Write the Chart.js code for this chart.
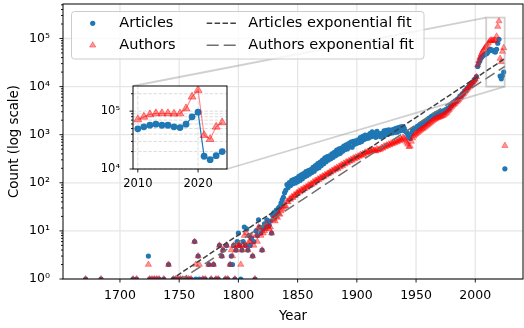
<!DOCTYPE html>
<html><head><meta charset="utf-8">
<script src="https://cdn.jsdelivr.net/npm/chart.js@4"></script>
<style>
html,body{margin:0;padding:0;background:#fff;}
#wrap{position:relative;width:524px;height:328px;overflow:hidden;background:#fff;}
#main{position:absolute;left:0;top:0;}
#inset{position:absolute;}
</style></head><body>
<div id="wrap"><canvas id="main" width="524" height="328"></canvas><canvas id="inset"></canvas></div>
<script>
// ---------------- DATA ----------------
const earlyYears    = [1671,1684,1711,1714,1724,1725,1727,1729,1731,1733,1737,1741,1745,1747,1749,1751,1753,1756,1758,1760,1763,1764,1766,1767,1770,1772,1775,1777,1779,1781,1783,1784,1786,1787,1789,1790,1791,1793,1794,1795,1796,1797,1798,1799];
const earlyArticles = [1,1,1,1,3,1,1,1,1,1,1,2,1,1,1,1,1,1,1,1,6,1,3,1,1,1,2,1,2,1,1,5,3,4,1,5,1,2,3,2,5,1,4,6];
const earlyAuthors  = [1,1,1,1,2,1,1,1,1,1,1,2,1,1,1,1,1,1,1,1,6,2,3,2,1,1,2,1,2,1,1,5,3,4,1,5,1,2,4,3,5,1,4,5];

// yearly values, 1800-1899
const articles1800s = [9,5,1,4,6,12,5,11,4,8, 5,7,3,6,1,10,8,17,12,9, 4,11,14,12,17,15,13,16,9,21, 24,20,27,25,30,32,38,44,50,62,
  70,92,80,101,88,112,96,118,99,124, 105,136,112,147,121,156,134,171,141,180, 152,188,163,210,174,228,195,250,206,268,
  228,296,250,330,275,352,298,365,316,402, 338,430,365,480,392,505,410,528,455,580, 490,618,505,650,560,700,548,728,630,745];
const authors1800s = [5,5,2,4,5,8,5,9,4,6, 6,8,3,5,1,8,6,12,11,8, 4,9,10,11,14,12,11,12,9,17, 18,16,20,19,23,22,26,28,31,33,
  33,41,40,46,45,51,49,56,54,61, 60,67,64,72,69,77,75,82,80,90, 86,94,92,104,98,111,108,119,116,128,
  124,137,133,146,143,156,153,167,165,180, 176,193,188,207,197,221,212,237,226,253, 243,272,260,284,279,305,293,326,314,342];
// yearly values, 1900-1999
const articles1900s = [660,785,690,870,720,920,790,980,830,960, 850,1050,905,1140,940,1040,880,1170,960,1040,
  910,1070,940,1200,980,1230,1010,1260,1070,1240, 1090,1290,1120,1350,1130,1400,1200,1450,1230,1480,
  1350,1180,1120,980,880,830,1060,1220,1300,1360, 1340,1490,1450,1600,1540,1720,1650,1840,1800,2010,
  1980,2210,2170,2420,2380,2600,2480,2780,2620,2850, 2730,2980,2860,3120,3000,3340,3220,3580,3520,3990,
  4050,4600,4540,5040,4980,5520,5600,6330,6280,7100, 7250,8150,8300,9350,9550,10500,10700,12000,12300,13800];
const authors1900s = [328,358,352,385,368,402,386,430,414,440, 432,472,453,494,465,470,455,505,476,492,
  498,540,522,578,558,606,585,635,612,664, 642,695,672,728,703,762,738,815,790,875,
  832,759,692,631,562,575,724,851,933,1000, 1047,1096,1148,1202,1259,1318,1349,1413,1479,1549,
  1622,1698,1778,1862,1950,2042,2089,2188,2239,2291, 2344,2399,2455,2512,2630,2754,2884,3090,3311,3548,
  3802,4074,4266,4467,4786,5012,5370,5754,6166,6607, 7079,7586,8128,8710,9333,10000,10720,11480,12300,13180];
// yearly values, 2000-2025
const articles2000s = [14450,16220,26300,30900,35480,39810,42660,44670,46770,47860,
  49400,53500,57200,59500,57000,57000,53500,52100,59500,79700,96100,16600,14500,17000,20000,195];
const authors2000s = [14130,15850,28180,34670,40740,46770,52480,57540,63100,67610,
  71700,79700,87500,91200,91200,91200,90000,91000,111000,177000,231000,38300,32700,53500,63600,590];

// exponential fits (end points)
const fitYears    = [1670, 2025];
const articlesFit = [0.0628, 38100];
const authorsFit  = [0.0465, 26400];

// ticks
const xTickYears  = [1700,1750,1800,1850,1900,1950,2000];
const insetXTicks = [2010,2020];
const insetFirstYear = 2010, insetLastYear = 2024;

// ---------------- LAYOUT CONSTANTS ----------------
const MAIN_X = [1651.9, 2040.3], MAIN_Y = [1, 521000];
const INSET_X = [2009.2, 2024.8], INSET_Y = [1e4, 2.72e5];
const INSET_BOX = {left:133, top:86, right:227, bottom:169};
const INSET_CANVAS = {left:93, top:78, width:140, height:122};

const BLUE = '#1f77b4';
const RED_FILL = 'rgba(255,0,0,0.42)';
const RED_EDGE = 'rgba(255,0,0,0.45)';
const FONT = "'DejaVu Sans', sans-serif";
Chart.defaults.font.family = FONT;
Chart.defaults.color = '#000';

// ---------------- BUILD POINTS ----------------
const series = (start, arr) => arr.map((v, i) => ({x: start + i, y: v}));
const articlePts = [...earlyYears.map((yr, i) => ({x: yr, y: earlyArticles[i]})),
  ...series(1800, articles1800s), ...series(1900, articles1900s), ...series(2000, articles2000s)];
const authorPts = [...earlyYears.map((yr, i) => ({x: yr, y: earlyAuthors[i]})),
  ...series(1800, authors1800s), ...series(1900, authors1900s), ...series(2000, authors2000s)];
const inRange = p => p.x >= insetFirstYear && p.x <= insetLastYear;
const SUP = ['⁰','¹','²','³','⁴','⁵','⁶'];
const isPow10 = v => Math.abs(Math.log10(v) - Math.round(Math.log10(v))) < 1e-9;
const powLabel = v => isPow10(v) ? '10' + SUP[Math.round(Math.log10(v))] : '';
function logTicks(min, max) {
  const out = [];
  for (let e = Math.floor(Math.log10(min)); e <= Math.ceil(Math.log10(max)); e++)
    for (let m = 1; m <= 9; m++) { const v = m * Math.pow(10, e); if (v >= min * 0.9999 && v <= max) out.push(v); }
  return out;
}
function line(ctx, x1, y1, x2, y2) { ctx.beginPath(); ctx.moveTo(x1, y1); ctx.lineTo(x2, y2); ctx.stroke(); }
function fixBox(s, prop, val) { s[prop] = val; s.paddingTop = 0; s.paddingBottom = 0; s.paddingLeft = 0; s.paddingRight = 0; }

function makeDecor(cfg) {
  return {
    id: 'decor',
    beforeDatasetsDraw(chart) {
      const {ctx, chartArea: a} = chart;
      const xs = chart.scales.x, ys = chart.scales.y;
      ctx.save();
      ctx.fillStyle = '#fff';
      ctx.fillRect(a.left, a.top, a.right - a.left, a.bottom - a.top);
      ctx.strokeStyle = cfg.gridColor; ctx.lineWidth = cfg.gridWidth; ctx.setLineDash(cfg.gridDash);
      xs.ticks.forEach(t => { const p = xs.getPixelForValue(t.value); line(ctx, p, a.top, p, a.bottom); });
      ys.ticks.forEach(t => { if (!cfg.minorGrid && !isPow10(t.value)) return;
        const p = ys.getPixelForValue(t.value); line(ctx, a.left, p, a.right, p); });
      ctx.restore();
    },
    afterDatasetsDraw(chart) { if (cfg.indicate) cfg.indicate(chart); },
    afterDraw(chart) {
      const {ctx, chartArea: a} = chart;
      const xs = chart.scales.x, ys = chart.scales.y;
      ctx.save();
      ctx.strokeStyle = '#000'; ctx.lineWidth = 0.9; ctx.setLineDash([]);
      xs.ticks.forEach(t => { const p = xs.getPixelForValue(t.value); line(ctx, p, a.bottom, p, a.bottom + 3.5); });
      ys.ticks.forEach(t => { const p = ys.getPixelForValue(t.value); const L = isPow10(t.value) ? 3.5 : 2;
        line(ctx, a.left - L, p, a.left, p); });
      ctx.lineWidth = 1;
      ctx.strokeRect(a.left, a.top, a.right - a.left, a.bottom - a.top);
      ctx.restore();
      if (cfg.legend) cfg.legend(ctx);
    }
  };
}

function indicate(chart) {
  const {ctx} = chart; const xs = chart.scales.x, ys = chart.scales.y;
  const l = xs.getPixelForValue(INSET_X[0]), r = xs.getPixelForValue(INSET_X[1]);
  const t = ys.getPixelForValue(INSET_Y[1]), b = ys.getPixelForValue(INSET_Y[0]);
  ctx.save();
  ctx.strokeStyle = 'rgba(150,150,150,0.45)'; ctx.lineWidth = 1.8;
  ctx.strokeRect(l, t, r - l, b - t);
  line(ctx, INSET_BOX.left, INSET_BOX.top, l, t);
  line(ctx, INSET_BOX.right, INSET_BOX.bottom, r, b);
  ctx.restore();
}

function legend(ctx) {
  const x0 = 71.5, y0 = 11.5, w = 352.5, h = 47.5, rr = 3;
  ctx.save();
  ctx.beginPath();
  ctx.moveTo(x0 + rr, y0); ctx.lineTo(x0 + w - rr, y0); ctx.arcTo(x0 + w, y0, x0 + w, y0 + rr, rr);
  ctx.lineTo(x0 + w, y0 + h - rr); ctx.arcTo(x0 + w, y0 + h, x0 + w - rr, y0 + h, rr);
  ctx.lineTo(x0 + rr, y0 + h); ctx.arcTo(x0, y0 + h, x0, y0 + h - rr, rr);
  ctx.lineTo(x0, y0 + rr); ctx.arcTo(x0, y0, x0 + rr, y0, rr); ctx.closePath();
  ctx.fillStyle = 'rgba(255,255,255,0.8)'; ctx.fill();
  ctx.strokeStyle = '#cccccc'; ctx.lineWidth = 1; ctx.stroke();
  const r1 = 23.3, r2 = 45.3;
  ctx.fillStyle = BLUE; ctx.beginPath(); ctx.arc(92.7, r1, 2.6, 0, Math.PI * 2); ctx.fill();
  const tr = 3.6; ctx.fillStyle = RED_FILL; ctx.strokeStyle = RED_EDGE; ctx.lineWidth = 0.8;
  ctx.beginPath(); ctx.moveTo(92.7, r2 - tr); ctx.lineTo(92.7 + tr * 0.866, r2 + tr * 0.5); ctx.lineTo(92.7 - tr * 0.866, r2 + tr * 0.5); ctx.closePath(); ctx.fill(); ctx.stroke();
  ctx.lineWidth = 1.5;
  ctx.strokeStyle = '#404040'; ctx.setLineDash([5.5, 2.4]); line(ctx, 206.7, r1, 236.7, r1);
  ctx.strokeStyle = '#707070'; ctx.setLineDash([12, 5]); line(ctx, 206.7, r2, 236.7, r2);
  ctx.setLineDash([]);
  ctx.fillStyle = '#000'; ctx.font = '14.5px ' + FONT; ctx.textBaseline = 'middle'; ctx.textAlign = 'left';
  ctx.fillText('Articles', 119.3, r1); ctx.fillText('Authors', 119.3, r2);
  ctx.fillText('Articles exponential fit', 248.3, r1); ctx.fillText('Authors exponential fit', 248.3, r2);
  ctx.restore();
}

// ---------------- MAIN CHART ----------------
new Chart(document.getElementById('main'), {
  type: 'scatter',
  data: {
    datasets: [
      {label: 'Articles exponential fit', data: fitYears.map((yr, i) => ({x: yr, y: articlesFit[i]})), showLine: true,
        borderColor: '#404040', borderWidth: 1.5, borderDash: [5.5, 2.4], pointRadius: 0, order: 1},
      {label: 'Authors exponential fit', data: fitYears.map((yr, i) => ({x: yr, y: authorsFit[i]})), showLine: true,
        borderColor: '#707070', borderWidth: 1.5, borderDash: [11, 5], pointRadius: 0, order: 0},
      {label: 'Authors', data: authorPts, pointStyle: 'triangle', pointRadius: 3.6,
        pointBackgroundColor: RED_FILL, pointBorderColor: RED_EDGE, pointBorderWidth: 0.8, order: 2},
      {label: 'Articles', data: articlePts, pointStyle: 'circle', pointRadius: 2.6,
        pointBackgroundColor: BLUE, pointBorderColor: BLUE, pointBorderWidth: 0, order: 3}
    ]
  },
  options: {
    responsive: false, animation: false, events: [],
    layout: {autoPadding: false, padding: {top: 4, right: 1, left: 0, bottom: 0}},
    plugins: {legend: {display: false}, tooltip: {enabled: false}},
    scales: {
      x: {type: 'linear', min: MAIN_X[0], max: MAIN_X[1],
        afterBuildTicks: s => { s.ticks = xTickYears.map(v => ({value: v})); },
        afterFit: s => fixBox(s, 'height', 49),
        ticks: {autoSkip: false, maxRotation: 0, minRotation: 0, padding: 9, font: {size: 12.5}, color: '#000', callback: v => String(v)},
        grid: {display: false, drawTicks: false}, border: {display: false},
        title: {display: true, text: 'Year', font: {size: 13.3}, color: '#000', padding: {top: 0, bottom: 3}}},
      y: {type: 'logarithmic', min: MAIN_Y[0], max: MAIN_Y[1],
        afterBuildTicks: s => { s.ticks = logTicks(MAIN_Y[0], MAIN_Y[1]).map(v => ({value: v})); },
        afterFit: s => fixBox(s, 'width', 63),
        ticks: {autoSkip: false, padding: 13, font: {size: 12.5}, color: '#000', callback: v => powLabel(v)},
        grid: {display: false, drawTicks: false}, border: {display: false},
        title: {display: true, text: 'Count (log scale)', font: {size: 13.3}, color: '#000', padding: {top: 7, bottom: 0}}}
    }
  },
  plugins: [makeDecor({gridColor: '#e6e6e6', gridWidth: 1.3, gridDash: [], minorGrid: false, indicate: indicate, legend: legend})]
});

// ---------------- INSET CHART ----------------
const ic = document.getElementById('inset');
ic.width = INSET_CANVAS.width; ic.height = INSET_CANVAS.height;
ic.style.left = INSET_CANVAS.left + 'px'; ic.style.top = INSET_CANVAS.top + 'px';
new Chart(ic, {
  type: 'scatter',
  data: {
    datasets: [
      {label: 'Articles', data: articlePts.filter(inRange), showLine: true, borderColor: BLUE, borderWidth: 1.2,
        pointStyle: 'circle', pointRadius: 3.4, pointBackgroundColor: BLUE, pointBorderColor: BLUE, pointBorderWidth: 0, order: 1},
      {label: 'Authors', data: authorPts.filter(inRange), showLine: true, borderColor: 'rgba(255,0,0,0.45)', borderWidth: 1.2,
        pointStyle: 'triangle', pointRadius: 4.6, pointBackgroundColor: RED_FILL, pointBorderColor: RED_EDGE, pointBorderWidth: 1, order: 0}
    ]
  },
  options: {
    responsive: false, animation: false, events: [],
    layout: {autoPadding: false, padding: {top: INSET_BOX.top - INSET_CANVAS.top, right: INSET_CANVAS.left + INSET_CANVAS.width - INSET_BOX.right, left: 0, bottom: 0}},
    plugins: {legend: {display: false}, tooltip: {enabled: false}},
    scales: {
      x: {type: 'linear', min: INSET_X[0], max: INSET_X[1],
        afterBuildTicks: s => { s.ticks = insetXTicks.map(v => ({value: v})); },
        afterFit: s => fixBox(s, 'height', INSET_CANVAS.top + INSET_CANVAS.height - INSET_BOX.bottom),
        ticks: {autoSkip: false, maxRotation: 0, minRotation: 0, padding: 8, font: {size: 11.5}, color: '#000', callback: v => String(v)},
        grid: {display: false, drawTicks: false}, border: {display: false}},
      y: {type: 'logarithmic', min: INSET_Y[0], max: INSET_Y[1],
        afterBuildTicks: s => { s.ticks = logTicks(INSET_Y[0], INSET_Y[1]).map(v => ({value: v})); },
        afterFit: s => fixBox(s, 'width', INSET_BOX.left - INSET_CANVAS.left),
        ticks: {autoSkip: false, padding: 13, font: {size: 11.5}, color: '#000', callback: v => powLabel(v)},
        grid: {display: false, drawTicks: false}, border: {display: false}}
    }
  },
  plugins: [makeDecor({gridColor: '#dcdcdc', gridWidth: 1, gridDash: [3.5, 1.6], minorGrid: true})]
});
</script></body></html>
